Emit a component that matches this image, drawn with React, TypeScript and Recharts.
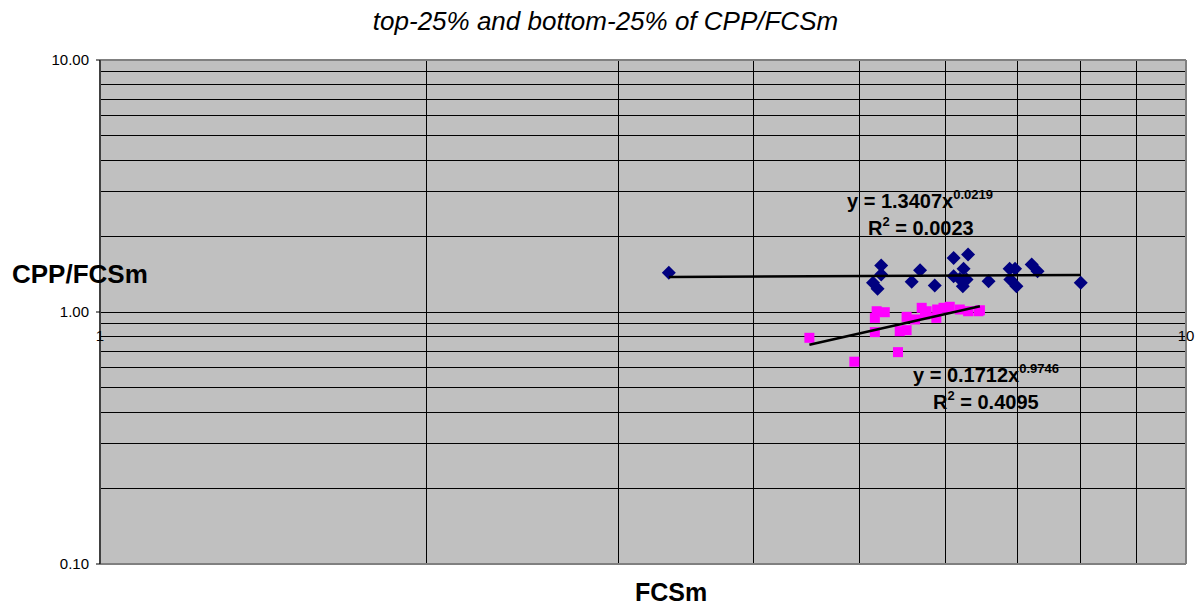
import React from 'react';
import {
	ScatterChart,
	Scatter,
	XAxis,
	YAxis,
	CartesianGrid,
	ReferenceLine,
	ReferenceDot,
} from 'recharts';

const FONT = '"Liberation Sans", Arial, sans-serif';

// top-25% group: FCSm vs CPP/FCSm
const topFcsm = [
	3.34, 5.24, 5.24, 5.15, 5.2, 5.59, 5.69, 5.87, 6.11, 6.3, 6.24, 6.11,
	6.19, 6.28, 6.23, 6.58, 6.88, 6.96, 6.89, 6.98, 7.21, 7.3, 8.0,
];
const topRatio = [
	1.43, 1.53, 1.41, 1.305, 1.236, 1.317, 1.464, 1.273, 1.639, 1.69, 1.483, 1.386,
	1.353, 1.345, 1.265, 1.324, 1.483, 1.483, 1.345, 1.265, 1.542, 1.451, 1.305,
];

// bottom-25% group
const bottomFcsm = [
	4.5, 4.95, 5.19, 5.28, 5.17, 5.17, 5.43, 5.45, 5.53, 5.53, 5.63,
	5.71, 5.77, 5.89, 5.9, 5.98, 6.06, 6.19, 6.3, 6.44, 6.46, 5.75,
];
const bottomRatio = [
	0.79, 0.635, 1.007, 0.998, 0.948, 0.832, 0.693, 0.839, 0.847, 0.957, 0.934,
	1.039, 1.007, 0.948, 1.023, 1.039, 1.049, 1.023, 1.007, 1.007, 1.016, 0.977,
];

// power trendlines y = a * x^b
const topFit = { a: 1.3407, b: 0.0219, r2: '0.0023' };
const bottomFit = { a: 0.1712, b: 0.9746, r2: '0.4095' };

const yTicks = [0.1, 1, 10];
const yMinor = [0.2, 0.3, 0.4, 0.5, 0.6, 0.7, 0.8, 0.9, 2, 3, 4, 5, 6, 7, 8, 9];
const xMinor = [2, 3, 4, 5, 6, 7, 8, 9];

const zip = (xs: number[], ys: number[]) => xs.map((x, i) => ({ x, y: ys[i] }));

const trend = (fit: { a: number; b: number }, xs: number[]) => {
	const lo = Math.min(...xs);
	const hi = Math.max(...xs);
	return [lo, hi].map((x) => ({ x, y: fit.a * Math.pow(x, fit.b) }));
};

const topPoints = zip(topFcsm, topRatio);
const bottomPoints = zip(bottomFcsm, bottomRatio);
const topTrend = trend(topFit, topFcsm);
const bottomTrend = trend(bottomFit, bottomFcsm);

const Diamond = (props: any) => {
	const { cx, cy } = props;
	const r = 7;
	return (
		<path
			d={`M${cx},${cy - r}L${cx + r},${cy}L${cx},${cy + r}L${cx - r},${cy}Z`}
			fill="#000080"
		/>
	);
};

const Square = (props: any) => {
	const { cx, cy } = props;
	return <rect x={cx - 5} y={cy - 5} width={10} height={10} fill="#FF00FF" />;
};

const NoDot = () => <g />;

function Equation({
	fit,
	left,
	top,
	r2Left,
}: {
	fit: { a: number; b: number; r2: string };
	left: number;
	top: number;
	r2Left: number;
}) {
	const base = {
		position: 'absolute' as const,
		fontFamily: FONT,
		fontWeight: 'bold' as const,
		fontSize: 20,
		lineHeight: '20px',
		whiteSpace: 'nowrap' as const,
		color: '#000',
	};
	return (
		<>
			<div style={{ ...base, left, top }}>
				y = {fit.a.toFixed(4)}x
				<span style={{ fontSize: 13, position: 'relative', top: -9 }}>
					{fit.b.toFixed(4)}
				</span>
			</div>
			<div style={{ ...base, left: r2Left, top: top + 27 }}>
				R<span style={{ fontSize: 13, position: 'relative', top: -9 }}>2</span> ={' '}
				{fit.r2}
			</div>
		</>
	);
}

export default function App() {
	return (
		<div
			style={{
				position: 'absolute',
				left: 0,
				top: 0,
				width: 1203,
				height: 607,
				background: '#fff',
				fontFamily: FONT,
			}}
		>
			<ScatterChart
				width={1203}
				height={607}
				margin={{ top: 60, right: 17, bottom: 43, left: 0 }}
			>
				<CartesianGrid fill="#C0C0C0" stroke="none" />
				<XAxis
					type="number"
					dataKey="x"
					scale="log"
					domain={[1, 10]}
					allowDataOverflow
					hide
				/>
				<YAxis
					type="number"
					dataKey="y"
					scale="log"
					domain={[0.1, 10]}
					ticks={yTicks}
					allowDataOverflow
					width={100}
					tickFormatter={(v: number) => v.toFixed(2)}
					tick={{ fill: '#000', fontSize: 15, fontFamily: FONT }}
					tickSize={4}
					tickMargin={7}
					axisLine={{ stroke: '#404040', strokeWidth: 2 }}
					tickLine={{ stroke: '#000' }}
				/>

				{yMinor.map((v) => (
					<ReferenceLine
						key={`h${v}`}
						y={v}
						stroke="#000"
						strokeWidth={1}
						shapeRendering="crispEdges"
					/>
				))}
				<ReferenceLine y={1} stroke="#000" strokeWidth={1} shapeRendering="crispEdges" />
				{xMinor.map((v) => (
					<ReferenceLine
						key={`v${v}`}
						x={v}
						stroke="#000"
						strokeWidth={1}
						shapeRendering="crispEdges"
					/>
				))}
				<ReferenceLine y={10} stroke="#808080" strokeWidth={2} />
				<ReferenceLine y={0.1} stroke="#808080" strokeWidth={2} />
				<ReferenceLine x={10} stroke="#808080" strokeWidth={2} />

				<ReferenceDot
					x={1}
					y={1}
					r={0}
					stroke="none"
					label={{ value: '1', position: 'bottom', offset: 18, fill: '#000', fontSize: 15, fontFamily: FONT }}
				/>
				<ReferenceDot
					x={10}
					y={1}
					r={0}
					stroke="none"
					label={{ value: '10', position: 'bottom', offset: 18, fill: '#000', fontSize: 15, fontFamily: FONT }}
				/>

				<Scatter data={topPoints} shape={Diamond} isAnimationActive={false} />
				<Scatter data={bottomPoints} shape={Square} isAnimationActive={false} />
				<Scatter
					data={topTrend}
					shape={NoDot}
					line={{ stroke: '#000', strokeWidth: 2.5 }}
					isAnimationActive={false}
				/>
				<Scatter
					data={bottomTrend}
					shape={NoDot}
					line={{ stroke: '#000', strokeWidth: 2.5 }}
					isAnimationActive={false}
				/>
			</ScatterChart>

			<div
				style={{
					position: 'absolute',
					left: 0,
					width: 1211,
					top: 8,
					textAlign: 'center',
					fontSize: 26,
					lineHeight: '26px',
					fontStyle: 'italic',
					color: '#000',
				}}
			>
				top-25% and bottom-25% of CPP/FCSm
			</div>
			<div
				style={{
					position: 'absolute',
					left: 12,
					top: 261,
					fontSize: 26,
					lineHeight: '26px',
					fontWeight: 'bold',
					color: '#000',
				}}
			>
				CPP/FCSm
			</div>
			<div
				style={{
					position: 'absolute',
					left: 571,
					width: 200,
					top: 580,
					textAlign: 'center',
					fontSize: 25,
					lineHeight: '25px',
					fontWeight: 'bold',
					color: '#000',
				}}
			>
				FCSm
			</div>

			<Equation fit={topFit} left={847} top={191} r2Left={868} />
			<Equation fit={bottomFit} left={913} top={365} r2Left={933} />
		</div>
	);
}
